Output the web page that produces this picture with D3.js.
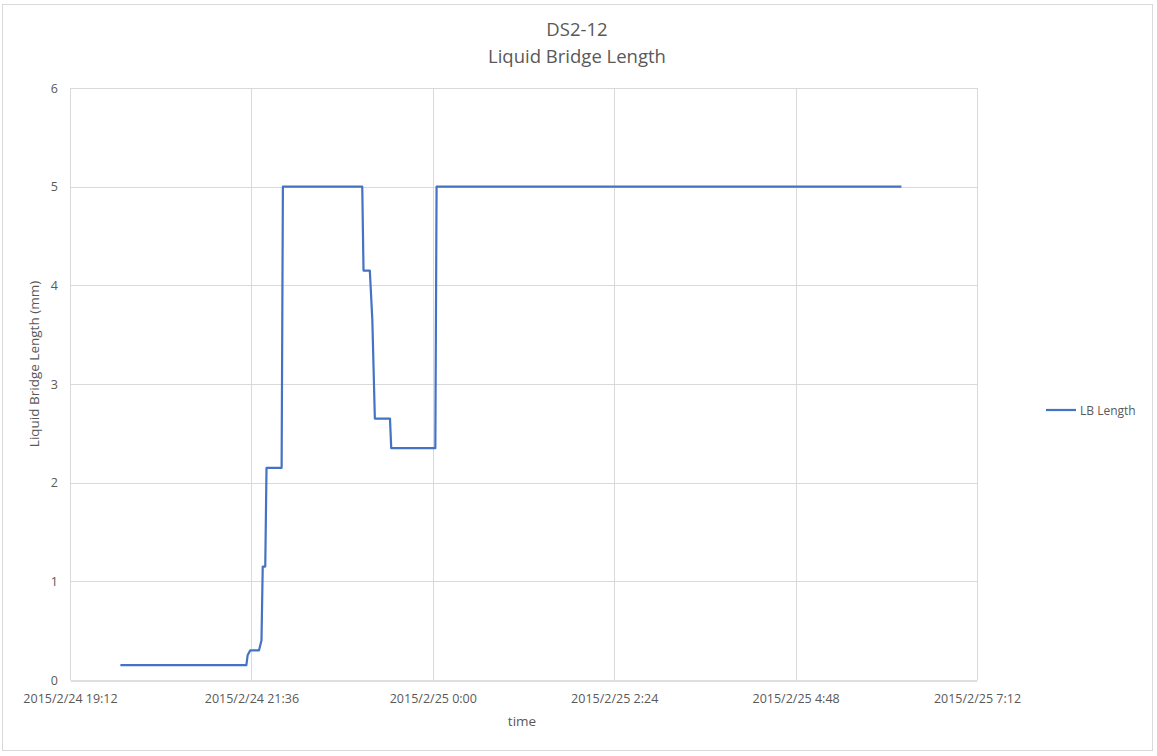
<!DOCTYPE html>
<html><head><meta charset="utf-8">
<script src="https://cdn.jsdelivr.net/npm/d3@7"></script>
<style>body{margin:0;background:#fff;} text{font-family:"Open Sans",Carlito,Calibri,sans-serif;fill:#595959;}</style>
</head><body><svg id="c" width="1157" height="756"></svg>
<script>
const times = ["2015-02-24 19:52","2015-02-24 21:32","2015-02-24 21:33","2015-02-24 21:35","2015-02-24 21:42","2015-02-24 21:44","2015-02-24 21:45","2015-02-24 21:47","2015-02-24 21:48","2015-02-24 22:00","2015-02-24 22:01","2015-02-24 23:04","2015-02-24 23:05","2015-02-24 23:10","2015-02-24 23:12","2015-02-24 23:14","2015-02-24 23:26","2015-02-24 23:27","2015-02-25 00:02","2015-02-25 00:03","2015-02-25 06:12"];
const lbLength = [0.15,0.15,0.25,0.3,0.3,0.4,1.15,1.15,2.15,2.15,5,5,4.15,4.15,3.65,2.65,2.65,2.35,2.35,5,5];
const xTickLabels = ["2015-02-24 19:12","2015-02-24 21:36","2015-02-25 00:00","2015-02-25 02:24","2015-02-25 04:48","2015-02-25 07:12"];
const yTicks = [0,1,2,3,4,5,6];
const seriesName = "LB Length";

const parse = d3.timeParse("%Y-%m-%d %H:%M");
const fmt = d3.timeFormat("%Y/%-m/%-d %-H:%M");
const data = times.map((t,i)=>({t:parse(t), v:lbLength[i]}));
const xt = xTickLabels.map(parse);

const svg = d3.select("#c");
svg.append("rect").attr("x",2.5).attr("y",4.5).attr("width",1150).attr("height",746)
  .attr("fill","#fff").attr("stroke","#d9d9d9");

const L=70,R=977,T=88,B=680;
const x = d3.scaleTime().domain([xt[0], xt[xt.length-1]]).range([L,R]);
const y = d3.scaleLinear().domain([0,6]).range([B,T]);

// gridlines
svg.append("g").selectAll("line").data(yTicks.filter(d=>d>0)).join("line")
  .attr("x1",L).attr("x2",R).attr("y1",d=>Math.round(y(d))+0.5).attr("y2",d=>Math.round(y(d))+0.5)
  .attr("stroke","#d9d9d9");
svg.append("g").selectAll("line").data(xt).join("line")
  .attr("x1",d=>Math.round(x(d))+0.5).attr("x2",d=>Math.round(x(d))+0.5).attr("y1",T).attr("y2",B)
  .attr("stroke","#d9d9d9");

// x axis
const xa = svg.append("g").attr("transform",`translate(0,${B+0.5})`)
  .call(d3.axisBottom(x).tickValues(xt).tickFormat(fmt).tickSize(0).tickPadding(14));
xa.select(".domain").attr("stroke","#bfbfbf");
xa.selectAll("text").style("font-size","12.5px").attr("fill","#595959");

// y axis
const ya = svg.append("g").attr("transform",`translate(${L},0)`)
  .call(d3.axisLeft(y).tickValues(yTicks).tickFormat(d3.format("d")).tickSize(0).tickPadding(12));
ya.select(".domain").remove();
ya.selectAll("text").style("font-size","12.5px").attr("fill","#595959");

// line
svg.append("path").datum(data)
  .attr("d", d3.line().x(d=>x(d.t)).y(d=>y(d.v)))
  .attr("fill","none").attr("stroke","#4472c4").attr("stroke-width",2.2).attr("stroke-linejoin","round");

// titles
svg.append("text").attr("x",577).attr("y",36).attr("text-anchor","middle").style("font-size","18.5px").text("DS2-12");
svg.append("text").attr("x",577).attr("y",63).attr("text-anchor","middle").style("font-size","18.5px").text("Liquid Bridge Length");
svg.append("text").attr("x",522).attr("y",726).attr("text-anchor","middle").style("font-size","13.5px").text("time");
svg.append("text").attr("transform","translate(39,364) rotate(-90)").attr("text-anchor","middle").style("font-size","13.5px").text("Liquid Bridge Length (mm)");

// legend
svg.append("line").attr("x1",1046).attr("x2",1076).attr("y1",410).attr("y2",410).attr("stroke","#4472c4").attr("stroke-width",2.2);
svg.append("text").attr("x",1080).attr("y",414.5).style("font-size","12px").text(seriesName);
</script></body></html>
